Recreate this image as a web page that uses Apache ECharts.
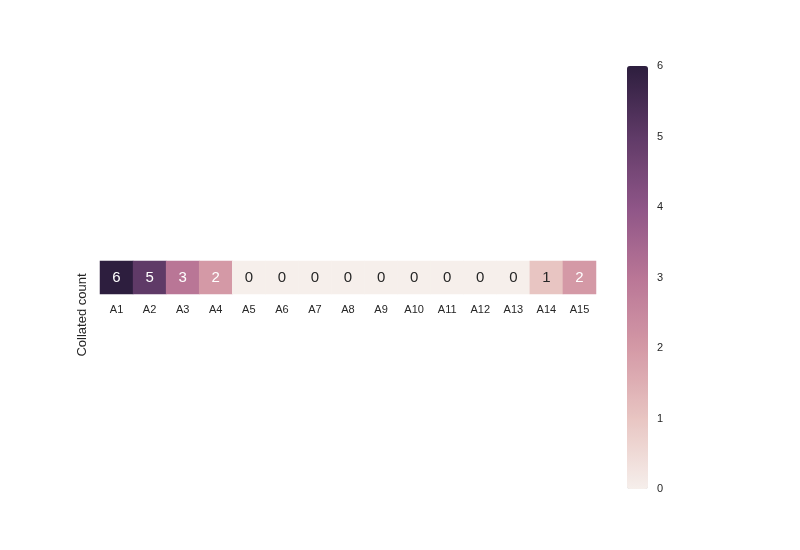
<!DOCTYPE html>
<html>
<head>
<meta charset="utf-8">
<script src="https://cdn.jsdelivr.net/npm/echarts@6/dist/echarts.min.js"></script>
<style>
  html, body { margin: 0; padding: 0; background: #fff; }
  #chart { width: 800px; height: 550px; }
</style>
</head>
<body>
<div id="chart"></div>
<script>
// data
const categories = ['A1', 'A2', 'A3', 'A4', 'A5', 'A6', 'A7', 'A8', 'A9', 'A10', 'A11', 'A12', 'A13', 'A14', 'A15'];
const counts = [6, 5, 3, 2, 0, 0, 0, 0, 0, 0, 0, 0, 0, 1, 2];
const rowLabel = 'Collated count';

// cubehelix-like ramp (light -> dark)
const palette = ['#f6efeb', '#e8c5c2', '#d499a6', '#b97696', '#8e5587', '#5f3a67', '#2d1e3e'];

const font = 'Liberation Sans, Arial, sans-serif';
const textColor = '#262626';

let chart = echarts.init(document.getElementById('chart'));

let cells = counts.map(function (v, i) {
    return {
        value: [i, 0, v],
        label: { color: v >= 2 ? '#ffffff' : textColor }
    };
});

chart.setOption({
    backgroundColor: '#fff',
    animation: false,
    textStyle: { fontFamily: font },
    grid: [
        { left: 100, top: 261, width: 496, height: 33 },
        { left: 627, top: 66, width: 21, height: 423 }
    ],
    xAxis: [{
        type: 'category',
        gridIndex: 0,
        data: categories,
        axisLine: { show: false },
        axisTick: { show: false },
        splitLine: { show: false },
        axisLabel: { color: textColor, fontSize: 11, margin: 10, interval: 0 }
    }, {
        type: 'value',
        gridIndex: 1,
        show: false
    }],
    yAxis: [{
        type: 'category',
        gridIndex: 0,
        data: [''],
        axisLine: { show: false },
        axisTick: { show: false },
        axisLabel: { show: false }
    }, {
        type: 'value',
        gridIndex: 1,
        position: 'right',
        min: 0,
        max: 6,
        interval: 1,
        axisLine: { show: false },
        axisTick: { show: false },
        splitLine: { show: false },
        axisLabel: { color: textColor, fontSize: 11, margin: 9 }
    }],
    visualMap: {
        type: 'continuous',
        min: 0,
        max: 6,
        seriesIndex: 0,
        calculable: false,
        orient: 'vertical',
        left: 627,
        top: 66,
        itemWidth: 21,
        itemHeight: 423,
        padding: 0,
        text: ['', ''],
        showLabel: false,
        inRange: { color: palette }
    },
    graphic: [{
        type: 'text',
        x: 82,
        y: 315,
        rotation: Math.PI / 2,
        style: {
            text: rowLabel,
            fill: textColor,
            fontSize: 13,
            fontFamily: font,
            align: 'center',
            verticalAlign: 'middle'
        }
    }],
    series: [{
        type: 'heatmap',
        xAxisIndex: 0,
        yAxisIndex: 0,
        data: cells,
        label: {
            show: true,
            fontSize: 15,
            formatter: function (p) { return p.value[2]; }
        },
        itemStyle: { borderWidth: 0 },
        emphasis: { disabled: true }
    }]
});
</script>
</body>
</html>
